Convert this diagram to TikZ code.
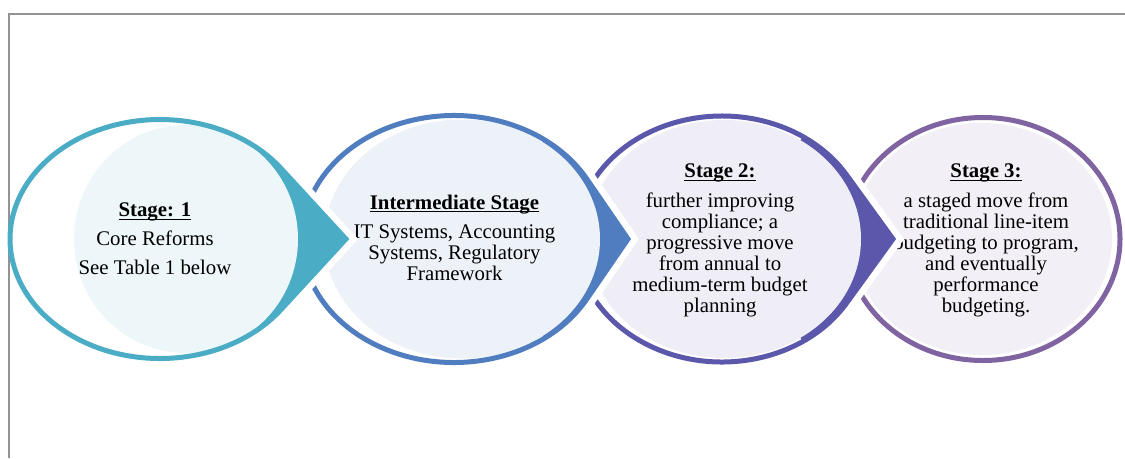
\documentclass[tikz,border=0pt]{standalone}
\usepackage{fontspec}
\setmainfont{Liberation Serif}

\definecolor{rimone}{HTML}{4BACC6}
\definecolor{rimtwo}{HTML}{4F7DBF}
\definecolor{rimthree}{HTML}{5B57AA}
\definecolor{rimfour}{HTML}{8064A2}

% bold heading with a rule under it
\newsavebox{\headbox}
\newcommand{\stagehead}[1]{\sbox{\headbox}{\textbf{#1}}%
  \rlap{\rule[-2.2pt]{\wd\headbox}{0.9pt}}\usebox{\headbox}}

% #1 centre x, #2 x radius, #3 y radius, #4 tip x, #5 tangent angle,
% #6 colour, #7 inner centre x, #8 inner x radius, #9 inner y radius
\newcommand{\stageshape}[9]{%
  % white halo round the pointer
  \begin{scope}
    \clip (#1,0) rectangle (1125,458);
    \draw[white, line width=13.5pt] (#4,\cy) -- ([shift={(#1,\cy)}]#5:#2 and #3)
      arc[start angle=#5, end angle=360-#5, x radius=#2, y radius=#3] -- cycle;
  \end{scope}
  \fill[white] (#4,\cy) -- ([shift={(#1,\cy)}]#5:#2 and #3)
    arc[start angle=#5, end angle=360-#5, x radius=#2, y radius=#3] -- cycle;
  \begin{scope}
    \clip (#4,\cy) -- ([shift={(#1,\cy)}]#5:#2 and #3)
      arc[start angle=#5, end angle=360-#5, x radius=#2, y radius=#3] -- cycle;
    \ifdim #5pt>0pt
      \fill[#6] (#4+10,100) -- ([shift={(#1,\cy)}]-#5-25:1.3*#2 and 1.3*#3)
        -- (#7,\cy) -- ([shift={(#1,\cy)}]#5+25:1.3*#2 and 1.3*#3) -- (#4+10,380) -- cycle;
    \fi
    \fill[#6!10] (#7,\cy) ellipse[x radius=#8, y radius=#9];
  \end{scope}
  \draw[#6, line width=3.75pt] (#4,\cy) -- ([shift={(#1,\cy)}]#5:#2 and #3)
    arc[start angle=#5, end angle=360-#5, x radius=#2, y radius=#3] -- cycle;
}

\begin{document}
\begin{tikzpicture}[x=0.75pt, y=-0.75pt,
    stagetext/.style={align=center, inner sep=0pt, font=\fontsize{15.6}{15.8}\selectfont}]
  \def\cy{239}
  \useasboundingbox (0,0) rectangle (1125,458);
  \draw[gray!85, line width=1.1pt] (9,458) -- (9,14) -- (1125,14);

  % drawn right to left, each pointer lies over the next stage
  \stageshape{983}{137}{121.5}{1120}{0}{rimfour}{982}{130}{116}
  \node[stagetext] (stagethree) at (986,240.5) {\stagehead{Stage 3:}\\[6pt]
    a staged move from\\traditional line-item\\budgeting to program,\\
    and eventually\\performance\\budgeting.};

  \stageshape{722}{146}{123}{893}{31.38}{rimthree}{724}{137}{119}
  \node[stagetext] (stagetwo) at (720,240.5) {\stagehead{Stage 2:}\\[6pt]
    further improving\\compliance; a\\progressive move\\from annual to\\
    medium-term budget\\planning};

  \stageshape{454}{152}{123.5}{628}{29.1}{rimtwo}{462}{138}{119.5}
  \node[stagetext] (interm) at (454.5,237.5) {\stagehead{Intermediate Stage}\\[6pt]
    IT Systems, Accounting\\Systems, Regulatory\\Framework};

  \stageshape{160}{150}{119.5}{346}{36.25}{rimone}{186}{112}{114}
  \node[stagetext] (stageone) at (155,239.1) {\stagehead{Stage: 1}\\[6pt]
    Core Reforms\\[6pt]See Table 1 below};
\end{tikzpicture}
\end{document}
